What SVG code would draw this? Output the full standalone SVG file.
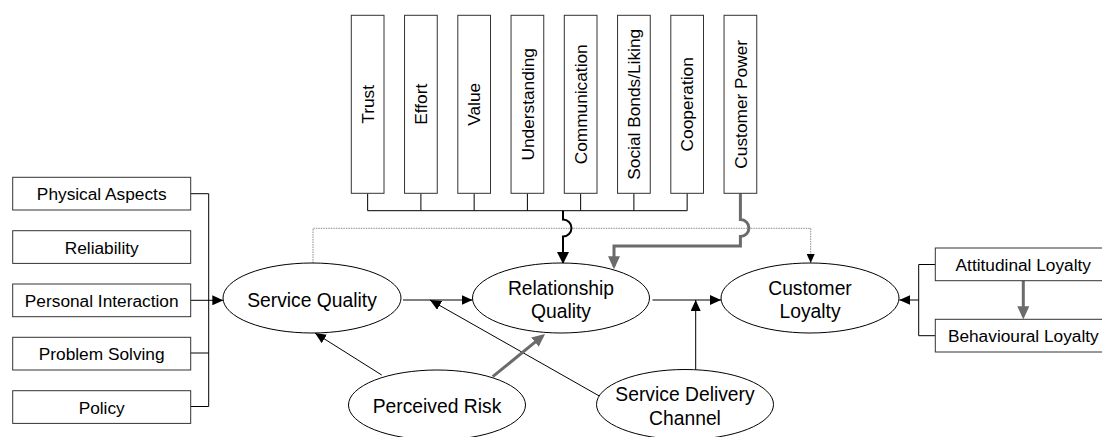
<svg xmlns="http://www.w3.org/2000/svg" width="1102" height="437" viewBox="0 0 1102 437">
  <style>
    .box { fill: #fff; stroke: #333; stroke-width: 1; }
    .ell { fill: #fff; stroke: #000; stroke-width: 1; }
    .t { font-family: "Liberation Sans", Arial, sans-serif; font-size: 17.3px; fill: #000; text-anchor: middle; }
    .te { font-family: "Liberation Sans", Arial, sans-serif; font-size: 19.3px; fill: #000; text-anchor: middle; }
    .ln { fill: none; stroke: #000; stroke-width: 1; }
    .gr { fill: none; stroke: #808080; stroke-width: 2; }
    .thick { fill: none; stroke: #6b6b6b; stroke-width: 3; }
    .trunk { fill: none; stroke: #000; stroke-width: 2; }
    .dot { fill: none; stroke: #8a8a8a; stroke-width: 1; stroke-dasharray: 1.5 1; }
  </style>
  <defs>
    <marker id="ah" viewBox="0 0 11 10" refX="11" refY="5" markerWidth="11" markerHeight="10" markerUnits="userSpaceOnUse" orient="auto">
      <path d="M0,0 L11,5 L0,10 z" fill="#000"/>
    </marker>
    <marker id="ahs" viewBox="0 0 9 8" refX="9" refY="4" markerWidth="9" markerHeight="8" markerUnits="userSpaceOnUse" orient="auto">
      <path d="M0,0 L9,4 L0,8 z" fill="#000"/>
    </marker>
    <marker id="ahb" viewBox="0 0 12 12" refX="12" refY="6" markerWidth="12" markerHeight="12" markerUnits="userSpaceOnUse" orient="auto">
      <path d="M0,0 L12,6 L0,12 z" fill="#000"/>
    </marker>
    <marker id="ahg" viewBox="0 0 13 12" refX="10" refY="6" markerWidth="13" markerHeight="12" markerUnits="userSpaceOnUse" orient="auto">
      <path d="M0,0 L13,6 L0,12 z" fill="#6b6b6b"/>
    </marker>
  </defs>

  <!-- connectors -->
  <g id="connectors">
    <!-- bus under the relationship dimensions -->
    <path class="ln" d="M367.65,193.3 V210.7 M420.9,193.3 V210.7 M474.15,193.3 V210.7 M527.4,193.3 V210.7 M580.65,193.3 V210.7 M633.9,193.3 V210.7 M687.15,193.3 V210.7 M367.65,210.7 H687.15"/>
    <!-- dotted link Service Quality to Customer Loyalty -->
    <path class="dot" d="M313,263 V228.3 H810.7 V263" marker-end="url(#ahs)"/>
    <!-- trunk with hop into Relationship Quality -->
    <path class="trunk" d="M563,210.7 V219.5 A8.5,8.5 0 0 1 563,236.5 V264" marker-end="url(#ahb)"/>
    <!-- Customer Power with hop -->
    <path class="thick" d="M740.4,193.3 V219.5 A8.5,8.5 0 0 1 740.4,236.5 V246 H614 V266.3" marker-end="url(#ahg)"/>
    <!-- left bracket -->
    <path class="ln" d="M190.7,193.7 H208.7 V406.5 H190.7 M190.7,353 H208.7"/>
    <path class="ln" d="M190.7,300.3 H223.3" marker-end="url(#ah)"/>
    <!-- main chain -->
    <path class="gr" d="M403,300 H472.5" marker-end="url(#ah)"/>
    <path class="gr" d="M652.5,300 H721" marker-end="url(#ah)"/>
    <!-- Service Delivery Channel links -->
    <path class="ln" d="M599.3,396 L430,300" marker-end="url(#ah)"/>
    <path class="ln" d="M695.7,369.8 V300" marker-end="url(#ah)"/>
    <!-- Perceived Risk links -->
    <path class="ln" stroke="#444" d="M381.7,375 L315,333" marker-end="url(#ah)"/>
    <path class="thick" d="M492.7,376.7 L542.7,335.9" marker-end="url(#ahg)"/>
    <!-- right bracket -->
    <path class="ln" d="M935.3,264.5 H918.7 V335.7 H935.3"/>
    <path class="ln" d="M918.7,300 H899.3" marker-end="url(#ah)"/>
    <path class="thick" d="M1023.3,280.7 V316.3" marker-end="url(#ahg)"/>
  </g>

  <!-- relationship dimensions -->
  <g id="trust"><rect class="box" x="351.3" y="15.3" width="32.7" height="178"/><text class="t" transform="translate(373.85,104.3) rotate(-90)">Trust</text></g>
  <g id="effort"><rect class="box" x="404.55" y="15.3" width="32.7" height="178"/><text class="t" transform="translate(427.1,104.3) rotate(-90)">Effort</text></g>
  <g id="value"><rect class="box" x="457.8" y="15.3" width="32.7" height="178"/><text class="t" transform="translate(480.35,104.3) rotate(-90)">Value</text></g>
  <g id="understanding"><rect class="box" x="511.05" y="15.3" width="32.7" height="178"/><text class="t" transform="translate(533.6,104.3) rotate(-90)">Understanding</text></g>
  <g id="communication"><rect class="box" x="564.3" y="15.3" width="32.7" height="178"/><text class="t" transform="translate(586.85,104.3) rotate(-90)">Communication</text></g>
  <g id="social-bonds"><rect class="box" x="617.55" y="15.3" width="32.7" height="178"/><text class="t" transform="translate(640.1,104.3) rotate(-90)">Social Bonds/Liking</text></g>
  <g id="cooperation"><rect class="box" x="670.8" y="15.3" width="32.7" height="178"/><text class="t" transform="translate(693.35,104.3) rotate(-90)">Cooperation</text></g>
  <g id="customer-power"><rect class="box" x="724.05" y="15.3" width="32.7" height="178"/><text class="t" transform="translate(746.6,104.3) rotate(-90)">Customer Power</text></g>

  <!-- service quality dimensions -->
  <g id="physical-aspects"><rect class="box" x="12.7" y="177.3" width="178" height="32.7"/><text class="t" x="101.7" y="200.2">Physical Aspects</text></g>
  <g id="reliability"><rect class="box" x="12.7" y="230.7" width="178" height="32.7"/><text class="t" x="101.7" y="253.6">Reliability</text></g>
  <g id="personal-interaction"><rect class="box" x="12.7" y="284" width="178" height="32.7"/><text class="t" x="101.7" y="306.9">Personal Interaction</text></g>
  <g id="problem-solving"><rect class="box" x="12.7" y="337.3" width="178" height="32.7"/><text class="t" x="101.7" y="360.2">Problem Solving</text></g>
  <g id="policy"><rect class="box" x="12.7" y="390.7" width="178" height="32.7"/><text class="t" x="101.7" y="413.6">Policy</text></g>

  <!-- loyalty dimensions -->
  <g id="attitudinal-loyalty"><rect class="box" x="935.3" y="248" width="178" height="32.7"/><text class="t" x="1023.3" y="270.9">Attitudinal Loyalty</text></g>
  <g id="behavioural-loyalty"><rect class="box" x="935.3" y="319.3" width="178" height="32.7"/><text class="t" x="1023.3" y="342.2">Behavioural Loyalty</text></g>

  <!-- constructs -->
  <g id="service-quality"><ellipse class="ell" cx="312" cy="298" rx="89" ry="35"/><text class="te" x="312" y="306.5">Service Quality</text></g>
  <g id="relationship-quality"><ellipse class="ell" cx="561" cy="298" rx="88.5" ry="35"/><text class="te" x="561" y="294.5">Relationship</text><text class="te" x="561" y="318">Quality</text></g>
  <g id="customer-loyalty"><ellipse class="ell" cx="810" cy="298" rx="89" ry="35"/><text class="te" x="810" y="294.5">Customer</text><text class="te" x="810" y="318">Loyalty</text></g>
  <g id="perceived-risk"><ellipse class="ell" cx="437" cy="405" rx="88.5" ry="35"/><text class="te" x="437" y="412.5">Perceived Risk</text></g>
  <g id="service-delivery-channel"><ellipse class="ell" cx="685" cy="404.5" rx="88.5" ry="35"/><text class="te" x="685" y="401.3">Service Delivery</text><text class="te" x="685" y="424.8">Channel</text></g>
</svg>
